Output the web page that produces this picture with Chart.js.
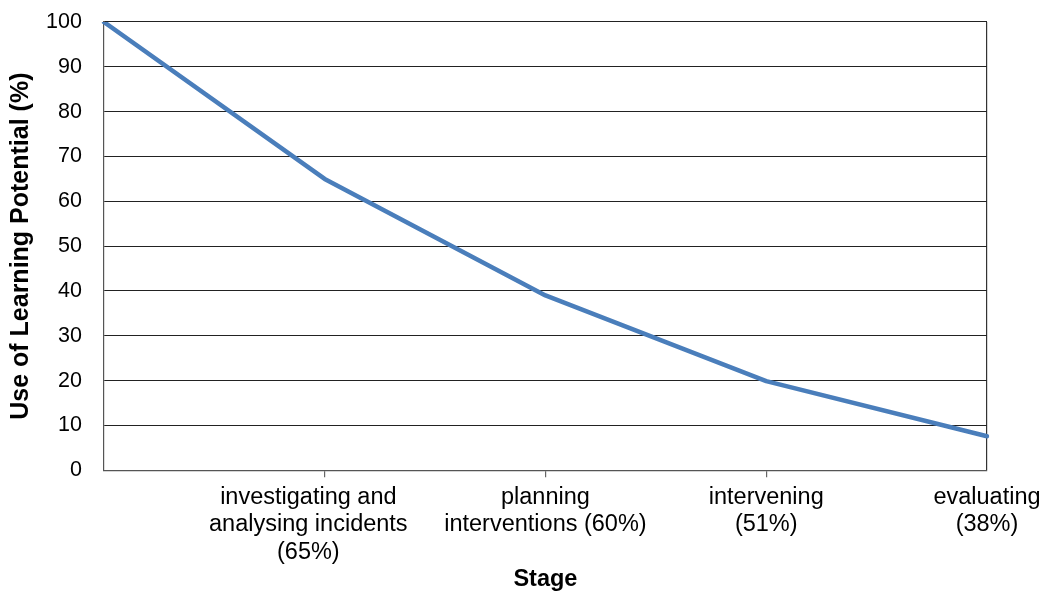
<!DOCTYPE html>
<html>
<head>
<meta charset="utf-8">
<script src="https://cdn.jsdelivr.net/npm/chart.js@4"></script>
<style>
  html, body { margin: 0; padding: 0; background: #fff; }
  #wrap { width: 1044px; height: 592px; }
</style>
</head>
<body>
<div id="wrap"><canvas id="Learning" width="1044" height="592"></canvas></div>
<script>
// first label sits a little left of its tick in the original, trailing spaces nudge it
const Stages = [
  "",
  ["investigating and     ", "analysing incidents     ", "(65%)     "],
  ["planning", "interventions (60%)"],
  ["intervening", "(51%)"],
  ["evaluating", "(38%)"]
];
const LearningUse = [100, 65, 39, 19.9, 7.6];
const YTicks = [0, 10, 20, 30, 40, 50, 60, 70, 80, 90, 100];

const FONT = "'Liberation Sans', Arial, sans-serif";
const lastIdx = Stages.length - 1;

const ctx = document.getElementById("Learning").getContext("2d");
const LearningChart = new Chart(ctx, {
  type: "line",
  data: {
    labels: Stages,
    datasets: [
      {
        label: "Use of Learning Potential (%)",
        data: LearningUse,
        fill: false,
        borderColor: "#4A7EBB",
        borderWidth: 4.5,
        borderJoinStyle: "round",
        borderCapStyle: "round",
        tension: 0,
        pointRadius: 0
      }
    ]
  },
  options: {
    responsive: false,
    animation: false,
    layout: { padding: { top: 22, right: 57, bottom: 0, left: 6 } },
    plugins: { legend: { display: false }, tooltip: { enabled: false } },
    scales: {
      x: {
        offset: false,
        afterFit: (s) => { s.paddingRight = 57; },
        grid: {
          display: true,
          drawOnChartArea: true,
          color: (c) => (c.index === lastIdx ? "#333" : "transparent"),
          tickColor: (c) => (c.index === 0 || c.index === lastIdx ? "transparent" : "#666"),
          tickLength: 7,
          lineWidth: 1.2
        },
        border: { display: true, color: "#555", width: 1.2 },
        ticks: {
          color: "#000",
          font: { family: FONT, size: 23.5, lineHeight: 1.17 },
          padding: 6,
          maxRotation: 0,
          autoSkip: false
        },
        title: {
          display: true,
          text: "Stage",
          color: "#000",
          font: { family: FONT, size: 23.5, weight: "bold" },
          padding: { top: -6, bottom: -2 }
        }
      },
      y: {
        min: 0,
        max: 100,
        afterBuildTicks: (axis) => { axis.ticks = YTicks.map((v) => ({ value: v })); },
        grid: { color: "#222", lineWidth: 1.1, drawTicks: false },
        border: { display: true, color: "#555", width: 1.2 },
        ticks: {
          color: "#000",
          font: { family: FONT, size: 21.5, lineHeight: 0 },
          padding: 22
        },
        title: {
          display: true,
          text: "Use of Learning Potential (%)",
          color: "#000",
          font: { family: FONT, size: 25, weight: "bold" },
          padding: { top: 0, bottom: -12 }
        }
      }
    }
  }
});
</script>
</body>
</html>
